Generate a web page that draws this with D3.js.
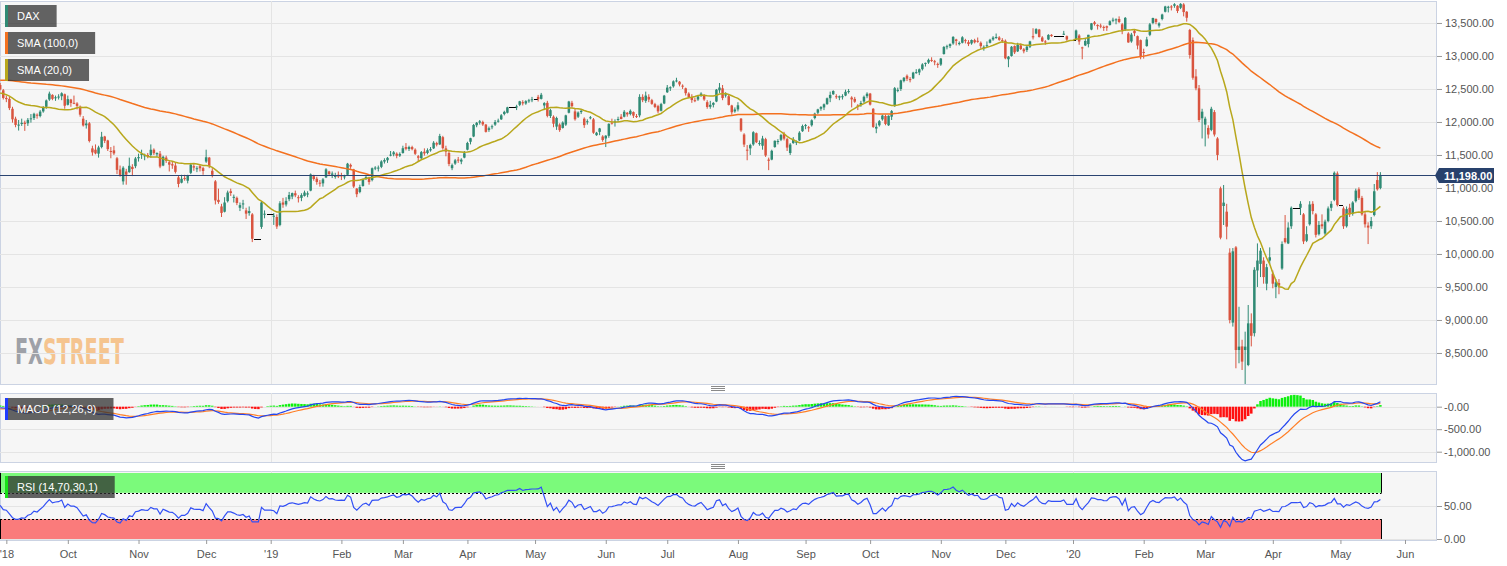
<!DOCTYPE html>
<html>
<head>
<meta charset="utf-8">
<script src="https://cdnjs.cloudflare.com/ajax/libs/d3/7.8.5/d3.min.js"></script>
<style>
  body { margin: 0; background: #fff; }
  svg { display: block; font-family: "Liberation Sans", Arial, sans-serif; }
</style>
</head>
<body>
<svg id="chart" width="1507" height="566"></svg>
<script>
// closes before the visible window, only used to warm up the indicators (Apr 10 - Aug 29 2018)
const warmupCloses = [12397, 12293, 12415, 12442, 12391, 12585, 12590, 12567, 12540, 12572, 12550, 12422, 12500, 12580, 12612,
  12802, 12763, 12820, 12948, 12912, 12897, 12955, 13001, 12977, 12970, 12996, 13114, 13077, 13169, 12977, 12855, 12938, 12863, 12666, 12783, 12604,
  12724, 12770, 12787, 12830, 12811, 12767, 12842, 12842, 12890, 13107, 13010, 12834, 12677, 12695, 12511, 12579, 12270, 12228, 12348, 12177, 12306,
  12238, 12349, 12317, 12464, 12496, 12609, 12610, 12418, 12492, 12541, 12561, 12662, 12766, 12686, 12561, 12548, 12689, 12579, 12810, 12860, 12799, 12806,
  12737, 12546, 12616, 12598, 12648, 12634, 12676, 12424, 12358, 12358, 12163, 12237, 12211, 12210, 12384, 12386, 12365, 12394, 12538, 12527, 12561];

// daily candles: [day, open, high, low, close]; [day, price] = flat day
const aug18 = [[30,12560,12590,12480,12494],[31,12480,12500,12340,12364]];
const sep18 = [[3,12364,12400,12300,12346],[4,12350,12380,12180,12210],[5,12200,12230,11990,12040],[6,12050,12080,11920,11955],[7,11960,12030,11870,11960],
  [10,11970,12050,11940,11987],[11,11990,12020,11865,11970],[12,11980,12060,11940,12032],[13,12040,12120,11990,12055],[14,12060,12140,12030,12124],
  [17,12110,12130,12050,12096],[18,12090,12180,12070,12157],[19,12160,12240,12140,12219],[20,12230,12340,12200,12326],[21,12340,12460,12320,12430],
  [24,12410,12420,12330,12350],[25,12360,12400,12320,12374],[26,12380,12420,12340,12385],[27,12390,12450,12330,12435],[28,12420,12430,12200,12246]];
const oct18 = [[1,12260,12400,12250,12346],[2,12340,12350,12230,12287],[3,12290,12400,12270,12287],[4,12280,12300,12190,12244],[5,12230,12250,12080,12111],
  [8,12050,12090,11930,11947],[9,11950,12030,11900,11977],[10,11980,12000,11690,11712],[11,11600,11640,11490,11539],[12,11580,11660,11510,11524],
  [15,11520,11640,11460,11614],[16,11620,11850,11600,11776],[17,11780,11790,11680,11715],[18,11720,11730,11560,11589],[19,11560,11620,11450,11553],
  [22,11570,11640,11500,11524],[23,11450,11470,11210,11274],[24,11280,11340,11170,11191],[25,11100,11330,11050,11307],[26,11250,11290,11050,11201],
  [29,11240,11460,11230,11336],[30,11320,11360,11180,11287],[31,11330,11470,11300,11447]];
const nov18 = [[1,11450,11520,11400,11468],[2,11500,11580,11440,11519],
  [5,11480,11520,11420,11495],[6,11500,11530,11450,11484],[7,11500,11660,11460,11579],[8,11580,11600,11500,11527],[9,11510,11540,11470,11529],
  [12,11520,11560,11300,11325],[13,11340,11490,11330,11472],[14,11460,11490,11380,11412],[15,11390,11420,11250,11353],[16,11360,11400,11290,11341],
  [19,11340,11380,11220,11244],[20,11160,11190,11010,11061],[21,11080,11200,11070,11139],[22,11150,11200,11110,11138],[23,11110,11200,11070,11193],
  [26,11230,11380,11210,11354],[27,11330,11360,11260,11309],[28,11290,11330,11240,11299],[29,11330,11350,11250,11298],[30,11300,11320,11200,11257]];
const dec18 = [[3,11400,11580,11380,11465],[4,11460,11470,11300,11335],[5,11260,11300,11160,11200],[6,11100,11120,10750,10811],[7,10820,10990,10760,10788],
  [10,10720,10760,10560,10622],[11,10640,10860,10630,10780],[12,10800,10960,10780,10931],[13,10950,10990,10880,10924],[14,10850,10900,10780,10866],
  [17,10850,10870,10740,10772],[18,10700,10780,10650,10740],[19,10750,10820,10680,10766],[20,10660,10700,10530,10611],[21,10620,10720,10580,10650],
  [24,10600,10620,10180,10230],[25,10230],[26,10230],[27,10410,10800,10380,10780],[28,10600,10660,10540,10610],[31,10610]];
const jan19 = [[1,10610],[2,10570,10620,10440,10580],[3,10560,10600,10380,10416],[4,10440,10800,10420,10768],
  [7,10780,10850,10700,10747],[8,10750,10860,10720,10804],[9,10830,10940,10800,10894],[10,10870,10930,10830,10922],[11,10920,10960,10860,10888],
  [14,10860,10890,10780,10856],[15,10850,10920,10800,10892],[16,10880,10960,10870,10931],[17,10900,10950,10860,10919],[18,10960,11220,10950,11205],
  [21,11180,11200,11110,11136],[22,11140,11170,11050,11090],[23,11080,11120,11020,11071],[24,11070,11150,11020,11130],[25,11160,11300,11150,11282],
  [28,11250,11260,11180,11210],[29,11200,11250,11150,11219],[30,11180,11230,11140,11182],[31,11200,11250,11150,11173]];
const feb19 = [[1,11190,11230,11120,11180],
  [4,11170,11200,11130,11176],[5,11200,11380,11190,11368],[6,11350,11370,11290,11324],[7,11280,11290,11000,11022],[8,10990,11000,10860,10906],
  [11,10940,11050,10920,11014],[12,11030,11140,11020,11127],[13,11150,11200,11120,11167],[14,11150,11170,11050,11090],[15,11120,11310,11100,11299],
  [18,11300,11330,11270,11309],[19,11300,11340,11250,11309],[20,11320,11420,11300,11402],[21,11400,11450,11370,11423],[22,11420,11470,11380,11457],
  [25,11500,11560,11480,11505],[26,11510,11560,11480,11540],[27,11520,11540,11450,11487],[28,11490,11540,11470,11516]];
const mar19 = [[1,11530,11640,11520,11602],
  [4,11620,11680,11570,11593],[5,11590,11640,11560,11620],[6,11620,11640,11570,11588],[7,11580,11600,11500,11518],[8,11480,11500,11400,11458],
  [11,11450,11560,11440,11543],[12,11550,11600,11490,11524],[13,11530,11600,11510,11572],[14,11570,11620,11550,11588],[15,11600,11710,11590,11686],
  [18,11680,11700,11630,11657],[19,11660,11820,11650,11788],[20,11770,11790,11580,11603],[21,11600,11640,11480,11550],[22,11530,11560,11330,11364],
  [25,11300,11370,11270,11346],[26,11370,11440,11350,11419],[27,11430,11470,11380,11428],[28,11400,11450,11360,11429],[29,11460,11560,11450,11526]];
const apr19 = [[1,11580,11700,11570,11682],[2,11700,11760,11660,11754],[3,11780,11970,11770,11954],[4,11950,12000,11920,11988],[5,11990,12030,11960,12010],
  [8,12000,12020,11940,11963],[9,11960,11970,11840,11850],[10,11880,11930,11850,11905],[11,11920,11960,11890,11935],[12,11960,12030,11940,11999],
  [15,12010,12050,11990,12020],[16,12040,12120,12030,12101],[17,12120,12170,12100,12153],[18,12140,12230,12130,12222],[19,12222],
  [22,12222],[23,12230,12260,12180,12236],[24,12260,12320,12240,12313],[25,12300,12330,12250,12282],[26,12280,12330,12260,12315],
  [29,12320,12350,12290,12328],[30,12330,12380,12300,12344]];
const may19 = [[1,12344],[2,12380,12410,12310,12346],[3,12350,12440,12340,12412],
  [6,12250,12300,12180,12286],[7,12290,12320,12070,12092],[8,12090,12200,12060,12179],[9,12080,12100,11920,11974],[10,11930,12080,11880,12060],
  [13,11960,11980,11850,11877],[14,11910,12010,11900,11991],[15,11960,12110,11940,12100],[16,12140,12320,12130,12310],[17,12290,12320,12220,12239],
  [20,12160,12200,12020,12041],[21,12080,12160,12060,12143],[22,12150,12190,12120,12168],[23,12050,12070,11910,11952],[24,12000,12040,11960,12011],
  [27,12060,12090,12040,12071],[28,12040,12060,11820,11837],[29,11800,11850,11790,11837],[30,11850,11910,11800,11902],[31,11780,11800,11700,11727]];
const jun19 = [[3,11750,11800,11620,11792],[4,11790,11980,11760,11971],[5,11990,12050,11960,11980],[6,11990,12040,11930,12009],[7,12030,12080,12000,12045],
  [10,12080,12120,12040,12045],[11,12080,12180,12070,12155],[12,12140,12150,12080,12115],[13,12120,12190,12100,12169],[14,12150,12160,12060,12096],
  [17,12090,12120,12060,12086],[18,12100,12420,12070,12380],[19,12380,12420,12300,12330],[20,12320,12460,12290,12400],[21,12380,12420,12300,12340],
  [24,12330,12350,12260,12274],[25,12270,12290,12210,12228],[26,12240,12260,12130,12161],[27,12170,12290,12160,12271],[28,12280,12410,12270,12399]];
const jul19 = [[1,12450,12560,12440,12521],[2,12510,12540,12470,12526],[3,12540,12630,12520,12616],[4,12620,12670,12600,12629],[5,12610,12620,12540,12568],
  [8,12550,12570,12500,12543],[9,12510,12520,12400,12436],[10,12430,12450,12360,12373],[11,12380,12420,12290,12332],[12,12330,12370,12300,12323],
  [15,12340,12400,12320,12387],[16,12400,12450,12380,12430],[17,12400,12420,12320,12341],[18,12300,12330,12200,12227],[19,12230,12320,12200,12260],
  [22,12260,12300,12220,12289],[23,12310,12500,12300,12490],[24,12480,12590,12440,12522],[25,12510,12560,12330,12362],[26,12400,12450,12370,12419],
  [29,12390,12420,12250,12258],[30,12250,12260,12110,12147],[31,12160,12220,12140,12189]];
const aug19 = [[1,12190,12300,12160,12253],[2,12050,12060,11850,11872],
  [5,11810,11830,11620,11658],[6,11580,11650,11420,11567],[7,11600,11670,11500,11650],[8,11660,11860,11640,11845],[9,11830,11840,11680,11693],
  [12,11680,11720,11640,11680],[13,11640,11790,11580,11750],[14,11740,11760,11470,11492],[15,11430,11460,11270,11412],[16,11430,11580,11420,11563],
  [19,11620,11720,11610,11715],[20,11700,11740,11660,11712],[21,11730,11820,11710,11802],[22,11820,11850,11720,11747],[23,11740,11760,11560,11612],
  [26,11530,11680,11500,11658],[27,11680,11770,11670,11731],[28,11700,11720,11650,11701],[29,11720,11860,11710,11838],[30,11860,11960,11850,11939]];
const sep19 = [[2,11940,11970,11890,11953],[3,11920,11940,11850,11911],[4,11950,12040,11930,12025],[5,12060,12140,12040,12126],[6,12140,12200,12120,12191],
  [9,12200,12240,12170,12226],[10,12220,12280,12180,12268],[11,12270,12370,12260,12359],[12,12360,12460,12300,12410],[13,12420,12480,12410,12469],
  [16,12390,12420,12350,12380],[17,12370,12400,12330,12389],[18,12380,12420,12340,12390],[19,12400,12490,12390,12457],[20,12460,12500,12430,12468],
  [23,12370,12390,12220,12342],[24,12350,12380,12290,12307],[25,12250,12270,12180,12234],[26,12260,12320,12230,12288],[27,12310,12400,12280,12381],
  [30,12390,12450,12360,12428]];
const oct19 = [[1,12430,12440,12250,12263],[2,12200,12210,11910,11925],[3,11900,11980,11830,11926],[4,11950,12030,11930,12012],
  [7,12040,12110,12020,12097],[8,12090,12110,11950,11970],[9,11950,12100,11940,12094],[10,12080,12180,12030,12164],[11,12240,12530,12230,12512],
  [14,12480,12520,12450,12486],[15,12500,12640,12470,12630],[16,12620,12680,12600,12670],[17,12700,12720,12620,12655],[18,12650,12680,12600,12634],
  [21,12660,12760,12650,12748],[22,12750,12800,12730,12755],[23,12750,12810,12710,12798],[24,12800,12890,12780,12872],[25,12880,12900,12840,12895],
  [28,12900,12960,12880,12941],[29,12940,12980,12910,12939],[30,12920,12940,12860,12910],[31,12880,12900,12820,12867]];
const nov19 = [[1,12870,12970,12850,12961],
  [4,13030,13150,13020,13136],[5,13140,13170,13100,13148],[6,13150,13190,13120,13179],[7,13190,13300,13170,13289],[8,13250,13260,13160,13228],
  [11,13180,13220,13160,13198],[12,13200,13300,13190,13283],[13,13240,13260,13190,13230],[14,13210,13240,13150,13180],[15,13190,13250,13170,13242],
  [18,13240,13260,13190,13207],[19,13230,13280,13200,13221],[20,13200,13220,13110,13149],[21,13130,13160,13080,13138],[22,13150,13220,13130,13163],
  [25,13200,13260,13190,13246],[26,13250,13300,13230,13278],[27,13280,13340,13260,13287],[28,13280,13300,13230,13245],[29,13240,13270,13200,13236]];
const dec19 = [[2,13230,13250,12950,12964],[3,12950,13000,12830,12989],[4,13000,13150,12990,13140],[5,13150,13160,13030,13055],[6,13070,13200,13060,13167],
  [9,13160,13190,13090,13105],[10,13100,13120,13040,13071],[11,13090,13160,13060,13141],[12,13140,13230,13120,13221],[13,13300,13420,13250,13282],
  [16,13340,13420,13330,13407],[17,13400,13410,13280,13287],[18,13280,13300,13210,13222],[19,13220,13240,13170,13212],[20,13250,13330,13240,13319],
  [23,13320,13330,13290,13301],[24,13301],[25,13301],[26,13301],[27,13330,13380,13320,13337],
  [30,13300,13310,13230,13249],[31,13249]];
const jan20 = [[1,13249],[2,13250,13400,13240,13386],[3,13310,13330,13170,13219],
  [6,13130,13140,12950,13127],[7,13160,13270,13150,13227],[8,13180,13320,13130,13321],[9,13400,13500,13390,13495],[10,13510,13530,13460,13483],
  [13,13470,13480,13400,13452],[14,13460,13490,13420,13456],[15,13440,13460,13380,13432],[16,13450,13460,13380,13429],[17,13470,13540,13460,13526],
  [20,13540,13580,13510,13549],[21,13540,13570,13480,13555],[22,13560,13600,13500,13515],[23,13480,13500,13330,13389],[24,13400,13590,13380,13577],
  [27,13340,13360,13200,13205],[28,13220,13350,13200,13324],[29,13380,13400,13300,13345],[30,13300,13310,13100,13158],[31,13240,13250,12950,12982]];
const feb20 = [[3,13060,13110,12960,13045],[4,13150,13290,13140,13250],[5,13320,13500,13300,13479],[6,13500,13580,13480,13575],[7,13560,13570,13480,13514],
  [10,13460,13510,13430,13494],[11,13560,13640,13540,13628],[12,13670,13760,13660,13750],[13,13730,13760,13660,13745],[14,13750,13770,13690,13744],
  [17,13760,13800,13730,13784],[18,13760,13770,13650,13681],[19,13730,13800,13710,13789],[20,13780,13800,13600,13665],[21,13670,13680,13520,13579],
  [24,13394,13410,12960,13015],[25,13240,13280,12640,12670],[26,12690,12800,12480,12510],[27,12510,12560,12000,12030],[28,12056,12200,11750,12156]];
const mar20 = [[2,11960,12080,11630,12050],[3,11910,11950,11750,11810],[4,11880,12230,11860,12200],[5,12150,12180,11780,11810],[6,11750,11770,11420,11500],
  [9,10995,11020,10222,10247],[10,10727,11045,10439,10778],[11,10641,10760,10222,10414],[12,10020,10086,8949,9000],[13,8960,10090,8900,10040],
  [16,10100,10120,8268,8545],[17,8545,9200,8344,8596],[18,8600,8700,8242,8369],[19,8545,8823,8015,8596],[20,8318,9227,8300,8949],
  [23,8950,9100,8600,8760],[24,8800,9800,8750,9760],[25,9750,10160,9500,9900],[26,9850,10090,9650,10050],[27,9900,9950,9550,9650],
  [30,9550,9850,9450,9800],[31,9900,10100,9850,9950]];
const apr20 = [[1,9700,9750,9480,9550],[2,9500,9620,9330,9570],[3,9560,9620,9390,9520],
  [6,9780,10190,9760,10150],[7,10240,10590,10160,10180],[8,10160,10480,10150,10400],[9,10420,10720,10380,10700],[10,10700],
  [13,10700],[14,10700,10800,10590,10760],[15,10600,10620,10150,10190],[16,10200,10420,10180,10300],[17,10450,10800,10430,10750],
  [20,10760,10800,10600,10650],[21,10600,10620,10250,10290],[22,10300,10500,10280,10440],[23,10450,10600,10380,10420],[24,10310,10520,10280,10490],
  [27,10500,10720,10480,10690],[28,10700,10800,10650,10760],[29,10820,11250,10800,11230],[30,11220,11250,10720,10740]];
const may20 = [[1,10740],[4,10690,10720,10380,10420],[5,10420,10720,10400,10680],[6,10700,10760,10560,10600],[7,10610,10800,10580,10780],[8,10800,10990,10780,10960],
  [11,10980,11010,10820,10850],[12,10850,10880,10580,10600],[13,10600,10640,10400,10450],[14,10430,10480,10150,10400],[15,10420,10560,10380,10500],
  [18,10590,11060,10570,10950],[19,11120,11240,10960,10980],[20,11000,11240,10980,11198]];

const monthBlocks = [["2018-08", aug18], ["2018-09", sep18], ["2018-10", oct18], ["2018-11", nov18], ["2018-12", dec18],
  ["2019-01", jan19], ["2019-02", feb19], ["2019-03", mar19], ["2019-04", apr19], ["2019-05", may19], ["2019-06", jun19],
  ["2019-07", jul19], ["2019-08", aug19], ["2019-09", sep19], ["2019-10", oct19], ["2019-11", nov19], ["2019-12", dec19],
  ["2020-01", jan20], ["2020-02", feb20], ["2020-03", mar20], ["2020-04", apr20], ["2020-05", may20]];

const priceTicks = [8500, 9000, 9500, 10000, 10500, 11000, 11500, 12000, 12500, 13000, 13500];
const macdTicks = [0, -500, -1000];
const macdTickLabels = ["-0.00", "-500.00", "-1,000.00"];
const rsiTicks = [0, 50];
const monthLabels = ["'18","Oct","Nov","Dec","'19","Feb","Mar","Apr","May","Jun","Jul","Aug","Sep","Oct","Nov","Dec","'20","Feb","Mar","Apr","May","Jun"];
const lastPrice = 11198;

// ---- build bars
const parseDay = d3.timeParse("%Y-%m-%d");
const base = new Date(2018, 8, 3); // a Monday
function wdIndex(d) {
  const days = d3.timeDay.count(base, d);
  const weeks = Math.floor(days / 7);
  return weeks * 5 + Math.min(days - weeks * 7, 5);
}
const bars = [];
monthBlocks.forEach(([ym, rows]) => rows.forEach(r => {
  const date = parseDay(`${ym}-${String(r[0]).padStart(2, "0")}`);
  const flat = r.length === 2;
  bars.push({ date, i: wdIndex(date), o: r[1], h: flat ? r[1] : r[2], l: flat ? r[1] : r[3], c: flat ? r[1] : r[4], flat });
}));

// ---- indicators
const closes = warmupCloses.concat(bars.map(b => b.c));
const off = warmupCloses.length;
function sma(arr, n) {
  return arr.map((v, i) => i < n - 1 ? null : d3.mean(arr.slice(i - n + 1, i + 1)));
}
function ema(arr, n) {
  const k = 2 / (n + 1), out = [];
  arr.forEach((v, i) => out.push(i === 0 ? v : v * k + out[i - 1] * (1 - k)));
  return out;
}
function rsi(arr, n) {
  const out = arr.map(() => null);
  let g = 0, l = 0;
  for (let i = 1; i <= n; i++) { const d = arr[i] - arr[i - 1]; if (d > 0) g += d; else l -= d; }
  g /= n; l /= n;
  out[n] = 100 - 100 / (1 + g / l);
  for (let i = n + 1; i < arr.length; i++) {
    const d = arr[i] - arr[i - 1];
    g = (g * (n - 1) + Math.max(d, 0)) / n;
    l = (l * (n - 1) + Math.max(-d, 0)) / n;
    out[i] = l === 0 ? 100 : 100 - 100 / (1 + g / l);
  }
  return out;
}
const sma20 = sma(closes, 20), sma100 = sma(closes, 100);
const e12 = ema(closes, 12), e26 = ema(closes, 26);
const macd = e12.map((v, i) => v - e26[i]);
const signal = ema(macd, 9);
const rsi14 = rsi(closes, 14);
bars.forEach((b, k) => {
  const j = k + off;
  b.sma20 = sma20[j]; b.sma100 = sma100[j];
  b.macd = macd[j]; b.signal = signal[j]; b.hist = macd[j] - signal[j];
  b.rsi = rsi14[j];
});

// ---- layout
const svg = d3.select("#chart");
const plotW = 1436;
const main = { top: 1, bottom: 384 }, mPanel = { top: 393, bottom: 462 }, rPanel = { top: 471, bottom: 540 };
const gridColor = "#e4e4e4", borderColor = "#cbd3e3", axisText = "#555";

const x = d3.scaleLinear()
  .domain([wdIndex(new Date(2019, 0, 1)), wdIndex(new Date(2020, 0, 1))])
  .range([270.7, 1073]);
const y = d3.scaleLinear().domain([8030, 13848]).range([384, 0]);
const yM = d3.scaleLinear().domain([-1229, 304]).range([462, 393]);
const yR = d3.scaleLinear().domain([0, 100]).range([539, 473]);

const firstWeekday = m => { let d = m; while (d.getDay() === 0 || d.getDay() === 6) d = d3.timeDay.offset(d, 1); return d; };
const monthStarts = d3.timeMonth.range(new Date(2018, 8, 1), new Date(2020, 6, 1)).map(firstWeekday);
const yearStarts = [new Date(2019, 0, 1), new Date(2020, 0, 1)];

const defs = svg.append("defs");
[["clipMain", main], ["clipMacd", mPanel], ["clipRsi", rPanel]].forEach(([id, p]) => {
  defs.append("clipPath").attr("id", id).append("rect")
    .attr("x", 0).attr("y", p.top).attr("width", plotW).attr("height", p.bottom - p.top);
});

function panel(p) {
  svg.append("rect").attr("x", 0.5).attr("y", p.top + 0.5).attr("width", plotW).attr("height", p.bottom - p.top)
    .attr("fill", "#f6f6f6").attr("stroke", borderColor);
}
function yearLines(g, p) {
  g.selectAll(null).data(yearStarts).join("line")
    .attr("x1", d => Math.round(x(wdIndex(d))) + 0.5).attr("x2", d => Math.round(x(wdIndex(d))) + 0.5)
    .attr("y1", p.top).attr("y2", p.bottom).attr("stroke", gridColor);
}

// ---- main panel
panel(main);
const gMain = svg.append("g").attr("clip-path", "url(#clipMain)");

// FXSTREET watermark: one text, squeezed horizontally to its width
const logoG = gMain.append("g");
const logo = logoG.append("text").attr("x", 0).attr("y", 0)
  .attr("font-family", "'Liberation Sans Narrow','DejaVu Sans Condensed',sans-serif")
  .attr("font-weight", "bold").attr("font-size", 35);
logo.append("tspan").attr("fill", "#9ea1a8").text("FX");
logo.append("tspan").attr("fill", "#f5c48f").text("STREET");
const logoScale = 109 / logo.node().getComputedTextLength();
logoG.attr("transform", `translate(15,364) scale(${logoScale},1)`);

gMain.selectAll(null).data(priceTicks).join("line")
  .attr("x1", 0).attr("x2", plotW)
  .attr("y1", d => Math.round(y(d)) + 0.5).attr("y2", d => Math.round(y(d)) + 0.5)
  .attr("stroke", gridColor);
yearLines(gMain, main);

const upC = "#2f8a74", downC = "#d9543f";
const candles = gMain.selectAll("g.candle").data(bars).join("g").attr("class", "candle");
candles.filter(d => !d.flat).append("line")
  .attr("x1", d => x(d.i)).attr("x2", d => x(d.i))
  .attr("y1", d => y(d.h)).attr("y2", d => y(d.l))
  .attr("stroke", d => d.c >= d.o ? upC : downC);
candles.filter(d => !d.flat).append("rect")
  .attr("x", d => x(d.i) - 1.25).attr("width", 2.5)
  .attr("y", d => y(Math.max(d.o, d.c)))
  .attr("height", d => Math.max(1, Math.abs(y(d.o) - y(d.c))))
  .attr("fill", d => d.c >= d.o ? upC : downC);
candles.filter(d => d.flat).append("rect")
  .attr("shape-rendering", "crispEdges")
  .attr("x", d => Math.round(x(d.i)) - 1.5).attr("width", 4)
  .attr("y", d => Math.round(y(d.c))).attr("height", 1).attr("fill", "#000");

const lineOf = (acc, ys) => d3.line().defined(d => acc(d) != null).x(d => x(d.i)).y(d => ys(acc(d)));
gMain.append("path").datum(bars).attr("fill", "none").attr("stroke", "#f3711f").attr("stroke-width", 1.5)
  .attr("d", lineOf(d => d.sma100, y));
gMain.append("path").datum(bars).attr("fill", "none").attr("stroke", "#b8a71c").attr("stroke-width", 1.5)
  .attr("d", lineOf(d => d.sma20, y));

// last price line
gMain.append("line").attr("x1", 0).attr("x2", plotW)
  .attr("y1", Math.round(y(lastPrice)) + 0.5).attr("y2", Math.round(y(lastPrice)) + 0.5)
  .attr("stroke", "#2a4471");

// right axis main
const axMain = svg.append("g").attr("transform", `translate(${plotW + 1},0)`)
  .call(d3.axisRight(y).tickValues(priceTicks).tickFormat(d3.format(",.2f")).tickSize(5).tickPadding(3));
const py = Math.round(y(lastPrice)) + 0.5;
svg.append("path").attr("d", `M${plotW - 1},${py} L${plotW + 3},${py - 7.5} L${plotW + 58},${py - 7.5} L${plotW + 58},${py + 7.5} L${plotW + 3},${py + 7.5} Z`)
  .attr("fill", "#28416c");
svg.append("text").attr("x", plotW + 8).attr("y", py + 4).attr("fill", "#fff")
  .attr("font-size", 11).attr("font-weight", "bold").text(d3.format(",.2f")(lastPrice));

// ---- MACD panel
panel(mPanel);
const gMacd = svg.append("g").attr("clip-path", "url(#clipMacd)");
gMacd.selectAll(null).data(macdTicks).join("line")
  .attr("x1", 0).attr("x2", plotW)
  .attr("y1", d => Math.round(yM(d)) + 0.5).attr("y2", d => Math.round(yM(d)) + 0.5)
  .attr("stroke", gridColor);
yearLines(gMacd, mPanel);
gMacd.selectAll("rect.h").data(bars).join("rect").attr("class", "h")
  .attr("x", d => x(d.i) - 1.25).attr("width", 2.5)
  .attr("y", d => Math.min(yM(0), yM(d.hist)))
  .attr("height", d => Math.abs(yM(d.hist) - yM(0)))
  .attr("fill", d => d.hist >= 0 ? "#0cf00c" : "#ff1010");
gMacd.append("path").datum(bars).attr("fill", "none").attr("stroke", "#ff7f27").attr("stroke-width", 1.2)
  .attr("d", lineOf(d => d.signal, yM));
gMacd.append("path").datum(bars).attr("fill", "none").attr("stroke", "#2447f0").attr("stroke-width", 1.2)
  .attr("d", lineOf(d => d.macd, yM));
const axMacd = svg.append("g").attr("transform", `translate(${plotW + 1},0)`)
  .call(d3.axisRight(yM).tickValues(macdTicks).tickFormat((d, i) => macdTickLabels[i]).tickSize(5).tickPadding(2));

// ---- RSI panel
panel(rPanel);
const gRsi = svg.append("g").attr("clip-path", "url(#clipRsi)");
const xLast = Math.round(x(bars[bars.length - 1].i)) + 1.5;
gRsi.selectAll(null).data(rsiTicks).join("line")
  .attr("x1", 0).attr("x2", plotW)
  .attr("y1", d => Math.round(yR(d)) + 0.5).attr("y2", d => Math.round(yR(d)) + 0.5)
  .attr("stroke", gridColor);
yearLines(gRsi, rPanel);
gRsi.append("rect").attr("x", 0.5).attr("width", xLast).attr("y", yR(100)).attr("height", yR(70) - yR(100)).attr("fill", "#7bfa7b");
gRsi.append("rect").attr("x", 0.5).attr("width", xLast).attr("y", yR(30)).attr("height", yR(0) - yR(30)).attr("fill", "#fa7b7b");
[[100, 70], [30, 0]].forEach(([a, b]) => {
  [0.5, xLast].forEach(xx => gRsi.append("line").attr("x1", xx).attr("x2", xx).attr("y1", yR(a)).attr("y2", yR(b)).attr("stroke", "#000"));
});
[70, 30].forEach(v => gRsi.append("line").attr("x1", 0).attr("x2", xLast)
  .attr("y1", Math.round(yR(v)) + 0.5).attr("y2", Math.round(yR(v)) + 0.5)
  .attr("stroke", "#000").attr("stroke-dasharray", "2,2"));
gRsi.append("path").datum(bars).attr("fill", "none").attr("stroke", "#3250f5").attr("stroke-width", 1.2)
  .attr("d", lineOf(d => d.rsi, yR));
const axRsi = svg.append("g").attr("transform", `translate(${plotW + 1},0)`)
  .call(d3.axisRight(yR).tickValues(rsiTicks).tickFormat(d3.format(".2f")).tickSize(5).tickPadding(2));

// ---- bottom axis
const axX = svg.append("g").attr("transform", `translate(0,${rPanel.bottom})`)
  .call(d3.axisBottom(x).tickValues(monthStarts.map(wdIndex)).tickFormat((d, i) => monthLabels[i]).tickSize(4).tickPadding(6));

[axMain, axMacd, axRsi, axX].forEach(a => {
  a.select(".domain").remove();
  a.selectAll(".tick line").attr("stroke", "#999");
  a.selectAll(".tick text").attr("fill", axisText).attr("font-size", 11).attr("font-family", "Liberation Sans, Arial, sans-serif");
});

// panel separators (drag handles)
[388.5, 466.5].forEach(cy => {
  [-2, 0, 2].forEach(dy => svg.append("line").attr("x1", 711).attr("x2", 725)
    .attr("y1", cy + dy).attr("y2", cy + dy).attr("stroke", "#8a8a8a"));
});

// ---- legends
function legend(label, color, top) {
  const g = svg.append("g");
  const box = g.append("rect").attr("x", 5).attr("y", top).attr("height", 22).attr("fill", "#303030").attr("opacity", 0.75);
  g.append("rect").attr("x", 5).attr("y", top).attr("width", 3).attr("height", 22).attr("fill", color);
  const t = g.append("text").attr("x", 17).attr("y", top + 15).attr("fill", "#fff").attr("font-size", 11).text(label);
  box.attr("width", t.node().getComputedTextLength() + 29);
}
legend("DAX", upC, 5);
legend("SMA (100,0)", "#f3711f", 32);
legend("SMA (20,0)", "#b8a71c", 59);
legend("MACD (12,26,9)", "#1f3cff", 398);
legend("RSI (14,70,30,1)", "#18e018", 476);
</script>
</body>
</html>
